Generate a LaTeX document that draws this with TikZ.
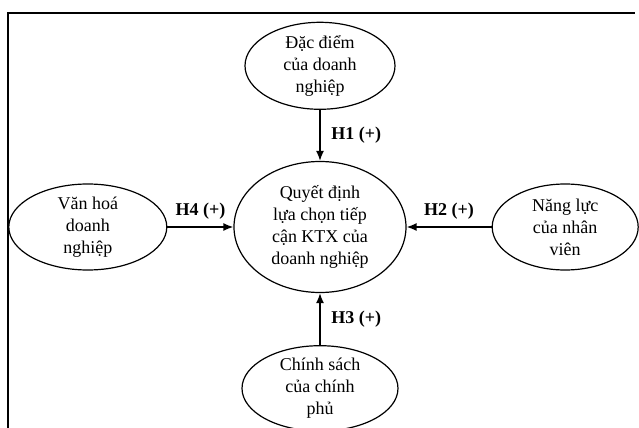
\documentclass[tikz,border=0pt]{standalone}
\usepackage{fontspec}
\setmainfont{Liberation Serif}
\usetikzlibrary{positioning, arrows.meta, shapes.geometric}

\begin{document}
\begin{tikzpicture}[
    x=0.5pt, y=-0.5pt,
    >={Latex[length=5pt, width=4pt]},
    factor/.style={ellipse, draw=black, line width=0.6pt, inner sep=0pt, align=center,
                   font=\fontsize{9}{11}\selectfont},
    arrow/.style={->, line width=0.8pt},
    hyp/.style={font=\fontsize{9}{11}\selectfont\bfseries},
]
\useasboundingbox (0,0) rectangle (639,428);

% ===== khung =====
\draw[line width=1pt] (8,428) -- (8,13) -- (635,13);

% ===== trung tâm =====
\node[factor, minimum width=86pt, minimum height=65.5pt] (decision) at (320,227)
    {Quyết định\\lựa chọn tiếp\\cận KTX của\\doanh nghiệp};

% ===== các nhân tố =====
\node[factor, minimum width=75pt, minimum height=43.5pt, above=25.5pt of decision] (firm)
    {Đặc điểm\\của doanh\\nghiệp};
\node[factor, minimum width=73pt, minimum height=43pt, right=42.5pt of decision] (staff)
    {Năng lực\\của nhân\\viên};
\node[factor, minimum width=78pt, minimum height=42pt, below=26pt of decision] (policy)
    {Chính sách\\của chính\\phủ};
\node[factor, minimum width=79pt, minimum height=43pt, left=33pt of decision] (culture)
    {Văn hoá\\doanh\\nghiệp};

% ===== giả thuyết =====
\draw[arrow] (firm) -- node[hyp, right=2pt] {H1 (+)} (decision);
\draw[arrow] (staff) -- node[hyp, above] {H2 (+)} (decision);
\draw[arrow] (policy) -- node[hyp, right=2pt] {H3 (+)} (decision);
\draw[arrow] (culture) -- node[hyp, above] {H4 (+)} (decision);

\end{tikzpicture}
\end{document}
